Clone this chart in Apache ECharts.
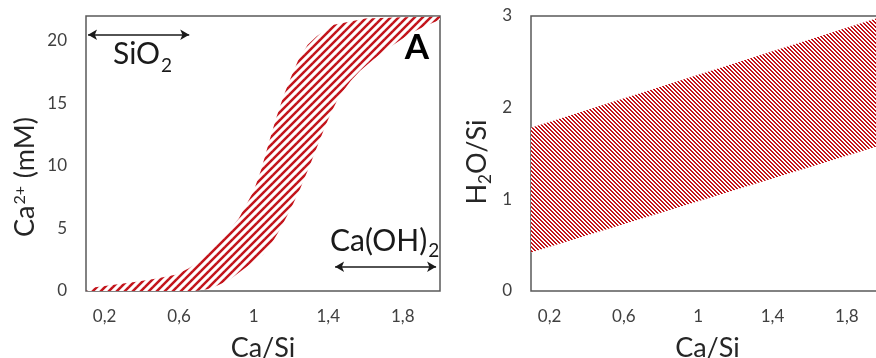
<!DOCTYPE html>
<html>
<head>
<meta charset="utf-8">
<script src="https://cdn.jsdelivr.net/npm/echarts@6/dist/echarts.min.js"></script>
<style>
  html, body { margin: 0; padding: 0; background: #fff; }
  #chart { width: 876px; height: 358px; }
</style>
</head>
<body>
<div id="chart"></div>
<script>
// Tick positions shared by both panels
const caSiTicks = [0.2, 0.6, 1.0, 1.4, 1.8];
const caTicks = [0, 5, 10, 15, 20];
const h2oTicks = [0, 1, 2, 3];

// Panel A: Ca2+ concentration band vs Ca/Si (upper/left edge and lower/right edge)
const caUpperX = [0.10, 0.15, 0.25, 0.37, 0.48, 0.58, 0.65, 0.72, 0.78, 0.87, 0.92, 0.96, 1.00, 1.04, 1.08, 1.12, 1.16, 1.20, 1.24, 1.29, 1.34, 1.43, 1.60, 1.80, 2.00];
const caUpperY = [0.0, 0.3, 0.5, 0.75, 1.0, 1.3, 1.8, 2.5, 3.4, 4.9, 5.8, 6.9, 8.0, 9.7, 11.8, 13.8, 15.6, 17.1, 18.5, 19.7, 20.4, 21.3, 21.8, 21.9, 21.95];
const caLowerX = [0.10, 0.68, 0.75, 0.80, 0.87, 0.95, 1.05, 1.10, 1.14, 1.20, 1.25, 1.30, 1.35, 1.39, 1.43, 1.46, 1.52, 1.57, 1.64, 1.71, 1.78, 1.84, 1.92, 2.00];
const caLowerY = [0.0, 0.0, 0.15, 0.4, 0.9, 1.8, 2.9, 3.9, 4.9, 6.6, 8.2, 10.0, 11.9, 13.4, 14.7, 15.6, 16.8, 17.6, 18.5, 19.3, 20.0, 20.6, 21.2, 21.7];

// Panel B: H2O/Si band vs Ca/Si
const h2oUpperX = [0.10, 2.00];
const h2oUpperY = [1.78, 3.00];
const h2oLowerX = [0.10, 2.00];
const h2oLowerY = [0.42, 1.60];

// Phase range arrows in panel A: [from, to, level]
const sio2Arrow = [0.111, 0.654, 20.5];
const caohArrow = [1.437, 1.979, 1.94];

const RED = '#c3141b';
const FONT = 'Lato';

// Smooth diagonal hatch tile, one stripe per tile, rising to the right
function hatchUp(tile, lineWidth) {
  const c = document.createElement('canvas');
  c.width = tile;
  c.height = tile;
  const ctx = c.getContext('2d');
  ctx.fillStyle = '#ffffff';
  ctx.fillRect(0, 0, tile, tile);
  ctx.strokeStyle = RED;
  ctx.lineWidth = lineWidth;
  for (let k = -1; k <= 1; k++) {
    ctx.beginPath();
    ctx.moveTo(k * tile - tile, 2 * tile);
    ctx.lineTo(k * tile + 2 * tile, -tile);
    ctx.stroke();
  }
  return { image: c, repeat: 'repeat' };
}

// Pixel-exact fine hatch falling to the right: 'on' red pixels per row out of 'tile'
function hatchDownPixel(tile, on) {
  const c = document.createElement('canvas');
  c.width = tile;
  c.height = tile;
  const ctx = c.getContext('2d');
  ctx.fillStyle = '#ffffff';
  ctx.fillRect(0, 0, tile, tile);
  ctx.fillStyle = RED;
  for (let y = 0; y < tile; y++) {
    for (let j = 0; j < on; j++) {
      ctx.fillRect((y + j) % tile, y, 1, 1);
    }
  }
  return { image: c, repeat: 'repeat' };
}

const fillA = hatchUp(8, 2.5);
const fillB = hatchDownPixel(4, 2);

function bandRenderer(ux, uy, lx, ly, fill) {
  return function (params, api) {
    if (params.dataIndex !== 0) return null;
    const pts = [];
    for (let i = 0; i < ux.length; i++) pts.push(api.coord([ux[i], uy[i]]));
    for (let i = lx.length - 1; i >= 0; i--) pts.push(api.coord([lx[i], ly[i]]));
    return { type: 'polygon', shape: { points: pts }, style: { fill: fill } };
  };
}

const fmtComma = v => String(Math.round(v * 10) / 10).replace('.', ',');

function xAxisFor(gridIndex) {
  return {
    type: 'value', gridIndex: gridIndex, min: 0.1, max: 2.0,
    name: 'Ca/Si', nameLocation: 'middle', nameGap: 44,
    nameTextStyle: { fontFamily: FONT, fontSize: 27, color: '#262626' },
    axisLine: { show: false }, axisTick: { show: false }, splitLine: { show: false },
    axisLabel: {
      customValues: caSiTicks, formatter: fmtComma, margin: 17,
      fontFamily: FONT, fontSize: 17, color: '#404040'
    }
  };
}

function yAxisFor(gridIndex, max, ticks) {
  return {
    type: 'value', gridIndex: gridIndex, min: 0, max: max,
    axisLine: { show: false }, axisTick: { show: false }, splitLine: { show: false },
    axisLabel: {
      customValues: ticks, margin: 19,
      fontFamily: FONT, fontSize: 17, color: '#404040'
    }
  };
}

const chart = echarts.init(document.getElementById('chart'), null, { renderer: 'canvas' });

chart.setOption({
  animation: false,
  backgroundColor: '#ffffff',
  grid: [
    { left: 86, top: 16, width: 354, height: 275, outerBoundsMode: 'none', containLabel: false, show: true, borderColor: '#595959', borderWidth: 1.5, backgroundColor: 'transparent' },
    { left: 531, top: 16, width: 353, height: 275, outerBoundsMode: 'none', containLabel: false, show: true, borderColor: '#595959', borderWidth: 1.5, backgroundColor: 'transparent' }
  ],
  xAxis: [xAxisFor(0), xAxisFor(1)],
  yAxis: [yAxisFor(0, 22, caTicks), yAxisFor(1, 3, h2oTicks)],
  series: [
    {
      type: 'custom', name: 'Ca2+', xAxisIndex: 0, yAxisIndex: 0, silent: true, clip: true,
      renderItem: bandRenderer(caUpperX, caUpperY, caLowerX, caLowerY, fillA),
      data: caUpperX.map((x, i) => [x, caUpperY[i]])
    },
    {
      type: 'custom', name: 'H2O/Si', xAxisIndex: 1, yAxisIndex: 1, silent: true, clip: true,
      renderItem: bandRenderer(h2oUpperX, h2oUpperY, h2oLowerX, h2oLowerY, fillB),
      data: h2oUpperX.map((x, i) => [x, h2oUpperY[i]])
    },
    {
      type: 'line', xAxisIndex: 0, yAxisIndex: 0, data: [], silent: true,
      markLine: {
        silent: true, animation: false,
        symbol: ['arrow', 'arrow'], symbolSize: [8, 9],
        label: { show: false },
        lineStyle: { color: '#1a1a1a', width: 1.6, type: 'solid' },
        emphasis: { disabled: true },
        data: [
          [{ coord: [sio2Arrow[0], sio2Arrow[2]] }, { coord: [sio2Arrow[1], sio2Arrow[2]] }],
          [{ coord: [caohArrow[0], caohArrow[2]] }, { coord: [caohArrow[1], caohArrow[2]] }]
        ]
      }
    }
  ],
  graphic: [
    {
      type: 'text', x: 25, y: 177, rotation: Math.PI / 2, silent: true,
      style: {
        text: '{m|Ca}{p|2+}{m| (mM)}', align: 'center', verticalAlign: 'middle',
        rich: {
          m: { fontFamily: FONT, fontSize: 27, lineHeight: 27, fill: '#262626', verticalAlign: 'top' },
          p: { fontFamily: FONT, fontSize: 16, lineHeight: 16, fill: '#262626', verticalAlign: 'top', padding: [0, 1, 0, 1] }
        }
      }
    },
    {
      type: 'text', x: 477, y: 162, rotation: Math.PI / 2, silent: true,
      style: {
        text: '{m|H}{s|2}{m|O/Si}', align: 'center', verticalAlign: 'middle',
        rich: {
          m: { fontFamily: FONT, fontSize: 27, lineHeight: 27, fill: '#262626', verticalAlign: 'top' },
          s: { fontFamily: FONT, fontSize: 17, lineHeight: 17, fill: '#262626', verticalAlign: 'top', padding: [14, 0, 0, 0] }
        }
      }
    },
    {
      type: 'text', x: 113, y: 39, silent: true,
      style: {
        text: '{m|SiO}{s|2}', align: 'left', verticalAlign: 'top',
        rich: {
          m: { fontFamily: FONT, fontSize: 30, lineHeight: 30, fill: '#1a1a1a', verticalAlign: 'top' },
          s: { fontFamily: FONT, fontSize: 19, lineHeight: 19, fill: '#1a1a1a', verticalAlign: 'top', padding: [17, 0, 0, 1] }
        }
      }
    },
    {
      type: 'text', x: 330, y: 226, silent: true,
      style: {
        text: '{m|Ca(OH)}{s|2}', align: 'left', verticalAlign: 'top',
        rich: {
          m: { fontFamily: FONT, fontSize: 30, lineHeight: 30, fill: '#1a1a1a', verticalAlign: 'top' },
          s: { fontFamily: FONT, fontSize: 19, lineHeight: 19, fill: '#1a1a1a', verticalAlign: 'top', padding: [15, 0, 0, 1] }
        }
      }
    },
    {
      type: 'text', x: 417, y: 48, silent: true,
      style: { text: 'A', align: 'center', verticalAlign: 'middle', fontFamily: FONT, fontWeight: 'bold', fontSize: 35, fill: '#000' }
    },
    {
      type: 'text', x: 856, y: 46, silent: true,
      style: { text: 'B', align: 'left', verticalAlign: 'middle', fontFamily: FONT, fontWeight: 'bold', fontSize: 35, fill: '#000' }
    }
  ]
});
</script>
</body>
</html>
